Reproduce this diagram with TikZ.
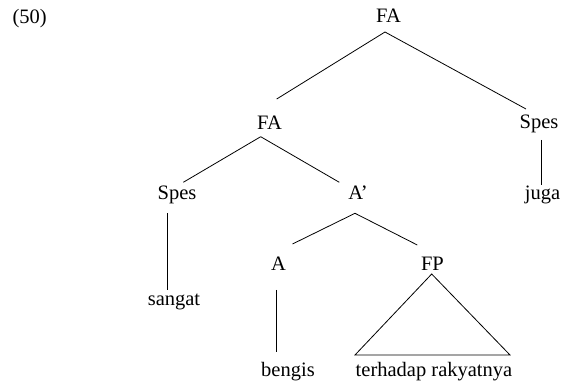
\documentclass[tikz,border=0pt]{standalone}
\usepackage{fontspec}
\setmainfont{Liberation Serif}
\begin{document}
\begin{tikzpicture}[x=1pt,y=-1pt,
  lbl/.style={anchor=base,inner sep=0pt,font=\fontsize{20.5}{24}\selectfont},
  edge/.style={line width=0.8pt,black}]
\useasboundingbox (0,0) rectangle (566,385);
\node[lbl] (n50) at (29.7,23.3) {(50)};
\node[lbl] (fa) at (388.5,22.7) {FA};
\node[lbl] (fa2) at (269.5,129.5) {FA};
\node[lbl] (spesR) at (539,128.5) {Spes};
\node[lbl] (spesL) at (177,200) {Spes};
\node[lbl] (ap) at (358,200) {A’};
\node[lbl] (juga) at (542.5,199.5) {juga};
\node[lbl] (a) at (278.5,271) {A};
\node[lbl] (fp) at (432.5,271) {FP};
\node[lbl] (sangat) at (174,306) {sangat};
\node[lbl] (bengis) at (288,377) {bengis};
\node[lbl] (terh) at (434,377) {terhadap rakyatnya};
\draw[edge] ([shift={(-3.5,9.3)}]fa.base) -- ([shift={(7.2,-30.5)}]fa2.base);
\draw[edge] ([shift={(-3.5,9.3)}]fa.base) -- ([shift={(-13,-19.5)}]spesR.base);
\draw[edge] ([shift={(-8.8,7.2)}]fa2.base) -- ([shift={(6.3,-17.7)}]spesL.base);
\draw[edge] ([shift={(-8.8,7.2)}]fa2.base) -- ([shift={(-18.7,-17.7)}]ap.base);
\draw[edge] ([shift={(2,11.5)}]spesR.base) -- ([shift={(-1.5,-14.5)}]juga.base);
\draw[edge] ([shift={(-9.3,13.3)}]spesL.base) -- ([shift={(-6.3,-16)}]sangat.base);
\draw[edge] ([shift={(-3,13.3)}]ap.base) -- ([shift={(14,-27)}]a.base);
\draw[edge] ([shift={(-3,13.3)}]ap.base) -- ([shift={(-15.2,-26)}]fp.base);
\draw[edge] ([shift={(-1.8,19)}]a.base) -- ([shift={(-11.3,-25)}]bengis.base);
\draw[edge,line join=miter] ([shift={(-0.8,3)}]fp.base) -- ([shift={(-79,-22)}]terh.base) -- ([shift={(76,-22)}]terh.base) -- cycle;
\end{tikzpicture}
\end{document}
